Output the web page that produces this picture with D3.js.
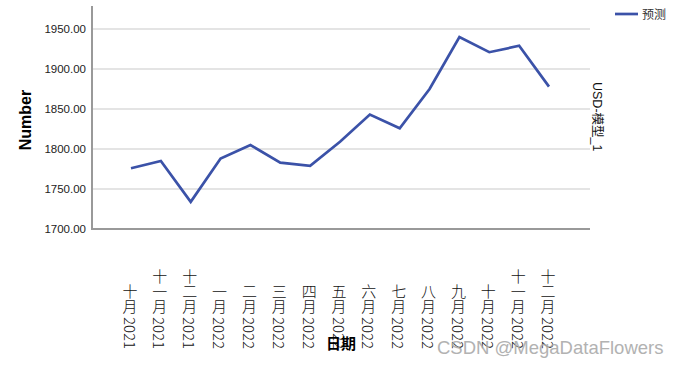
<!DOCTYPE html>
<html>
<head>
<meta charset="utf-8">
<script src="https://cdn.jsdelivr.net/npm/d3@7"></script>
<style>
  body { margin: 0; background: #fff; }
  svg { display: block; font-family: Arial, "Liberation Sans", sans-serif; }
</style>
</head>
<body>
<div id="chart"></div>
<script>
// Data
const categories = ['十月 2021', '十一月 2021', '十二月 2021', '一月 2022', '二月 2022', '三月 2022',
    '四月 2022', '五月 2022', '六月 2022', '七月 2022', '八月 2022', '九月 2022',
    '十月 2022', '十一月 2022', '十二月 2022'];
const forecast = [1776, 1785, 1734, 1788, 1805, 1783, 1779, 1809, 1843, 1826, 1875, 1940, 1921, 1929, 1878];
const yTicks = [1700, 1750, 1800, 1850, 1900, 1950];

const width = 678, height = 367;
const svg = d3.select('#chart').append('svg')
    .attr('width', width)
    .attr('height', height);

// Scales
const x = d3.scalePoint()
    .domain(categories)
    .range([131, 549]);

const y = d3.scaleLinear()
    .domain([1700, 1950])
    .range([229, 29]);

const plotLeft = 92, plotRight = 590, plotTop = 6;

// Gridlines
svg.append('g')
    .selectAll('line')
    .data(yTicks.slice(1))
    .join('line')
    .attr('x1', plotLeft).attr('x2', plotRight)
    .attr('y1', d => y(d)).attr('y2', d => y(d))
    .style('stroke', '#c9c9c9')
    .style('stroke-width', 1.2);

// Y axis
const yAxis = d3.axisLeft(y)
    .tickValues(yTicks)
    .tickSize(0)
    .tickPadding(6)
    .tickFormat(d3.format('.2f'));

const yg = svg.append('g')
    .attr('transform', `translate(${plotLeft},0)`)
    .call(yAxis);
yg.select('.domain').remove();
yg.selectAll('text')
    .style('font-size', '11.5px')
    .style('fill', '#222');

// Axis lines
svg.append('line')
    .attr('x1', plotLeft).attr('x2', plotLeft)
    .attr('y1', plotTop).attr('y2', y(1700) + 1)
    .style('stroke', '#999')
    .style('stroke-width', 2);
svg.append('line')
    .attr('x1', plotLeft - 1).attr('x2', plotRight)
    .attr('y1', y(1700)).attr('y2', y(1700))
    .style('stroke', '#999')
    .style('stroke-width', 2);

// X labels (vertical writing)
svg.append('g')
    .selectAll('text')
    .data(categories)
    .join('text')
    .attr('x', d => x(d) - 1)
    .attr('y', 349)
    .attr('writing-mode', 'vertical-rl')
    .style('text-anchor', 'end')
    .style('font-family', '"Noto Sans CJK SC", sans-serif')
    .style('font-weight', 300)
    .style('font-size', '15px')
    .style('fill', '#111')
    .text(d => d);

// Line
const line = d3.line()
    .x((d, i) => x(categories[i]))
    .y(d => y(d));

svg.append('path')
    .datum(forecast)
    .attr('d', line)
    .style('fill', 'none')
    .style('stroke', '#3b52a8')
    .style('stroke-width', 2.7)
    .style('stroke-linejoin', 'miter');

// Axis titles
svg.append('text')
    .attr('transform', 'translate(31,120) rotate(-90)')
    .style('text-anchor', 'middle')
    .style('font-size', '16px')
    .style('font-weight', 'bold')
    .style('fill', '#000')
    .text('Number');

svg.append('text')
    .attr('x', 341)
    .attr('y', 349)
    .style('text-anchor', 'middle')
    .style('font-family', '"Noto Sans CJK SC", sans-serif')
    .style('font-size', '15px')
    .style('font-weight', 'bold')
    .style('fill', '#000')
    .text('日期');

// Right side series label
svg.append('text')
    .attr('transform', 'translate(593,82) rotate(90)')
    .style('text-anchor', 'start')
    .style('font-family', 'Arial, "Noto Sans CJK SC", sans-serif')
    .style('font-size', '12.5px')
    .style('fill', '#111')
    .text('USD-模型_1');

// Legend
svg.append('line')
    .attr('x1', 615).attr('x2', 638)
    .attr('y1', 14).attr('y2', 14)
    .style('stroke', '#3b52a8')
    .style('stroke-width', 2.7);
svg.append('text')
    .attr('x', 642)
    .attr('y', 19)
    .style('font-family', '"Noto Sans CJK SC", sans-serif')
    .style('font-size', '12px')
    .style('fill', '#333')
    .text('预测');

// Watermark
svg.append('text')
    .attr('x', 437)
    .attr('y', 354)
    .style('font-size', '18.5px')
    .style('fill', '#aaa')
    .style('opacity', 0.9)
    .text('CSDN @MegaDataFlowers');
</script>
</body>
</html>
